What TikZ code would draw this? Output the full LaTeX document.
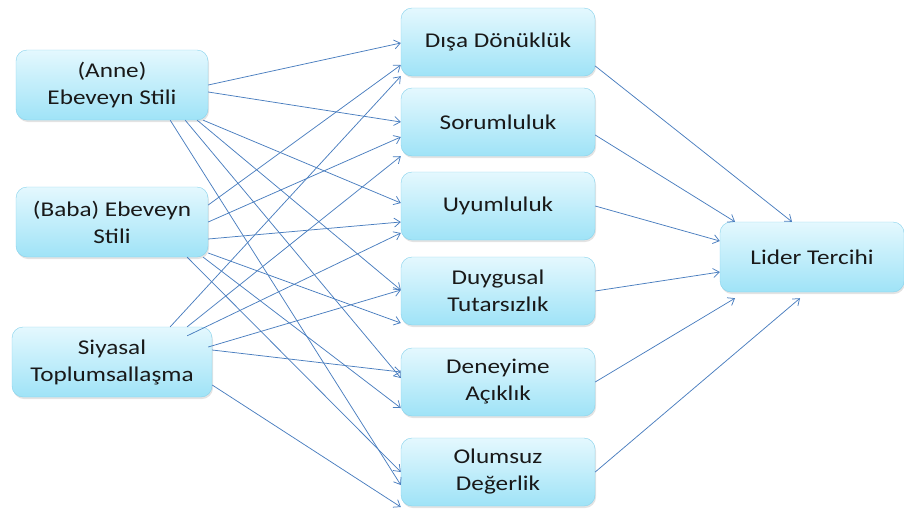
\documentclass[tikz,border=0pt]{standalone}
\usepackage{fontspec}
\setmainfont{Carlito}[FakeStretch=1.2]
\usetikzlibrary{arrows.meta,shadows}

\definecolor{boxtop}{HTML}{E4F8FE}
\definecolor{boxbot}{HTML}{9FE3F7}
\definecolor{boxline}{HTML}{86D2EC}
\definecolor{arrblue}{HTML}{4A7EBF}

\newcommand{\bxn}{\node[rectangle, rounded corners=11pt, draw=boxline, thin,
    top color=boxtop, bottom color=boxbot, align=center, text=black!90,
    minimum height=68pt, inner sep=2pt,
    font=\fontsize{21}{27}\selectfont,
    drop shadow={opacity=0.22, shadow xshift=1pt, shadow yshift=-2pt}]}
\newcommand{\Ln}{\bxn[minimum width=192pt, minimum height=70pt]}
\newcommand{\Mn}{\bxn[minimum width=194pt]}

\tikzset{wires/.style={every edge/.style={draw=arrblue, line width=0.75pt,
    -{Straight Barb[length=6pt, width=9pt]}}}}

\begin{document}
\begin{tikzpicture}[x=1pt, y=-1pt]
            \useasboundingbox (0,0) rectangle (904,512);

            \Ln (anne) at (112, 85) {(Anne)\\Ebeveyn Stili};
            \Ln (baba) at (112, 222) {(Baba) Ebeveyn\\Stili};
            \Ln[minimum width=200pt] (siyasal) at (112, 362) {Siyasal\\Toplumsallaşma};

            \Mn (disa) at (498, 42) {Dışa Dönüklük};
            \Mn (sorum) at (498, 122) {Sorumluluk};
            \Mn (uyum) at (498, 206) {Uyumluluk};
            \Mn (duygu) at (498, 291) {Duygusal\\Tutarsızlık};
            \Mn (deney) at (498, 382) {Deneyime\\Açıklık};
            \Mn (olumsuz) at (498, 472) {Olumsuz\\Değerlik};

            \bxn[minimum width=184pt, minimum height=70pt] (lider) at (812, 257) {Lider Tercihi};

            % anne
            \path[wires]
                (anne.east) edge ([yshift=-1pt]disa.west)
                ([yshift=-7pt]anne.east) edge (sorum.west)
                ([xshift=-5pt]anne.south east) edge ([yshift=3pt]uyum.west)
                ([xshift=-11pt]anne.south east) edge ([yshift=1pt]duygu.west)
                ([xshift=-23pt]anne.south east) edge ([yshift=4pt]deney.west)
                ([xshift=-38pt]anne.south east) edge ([yshift=-13pt]olumsuz.west)
                ;

            % baba
            \path[wires]
                ([yshift=17pt]baba.east) edge ([yshift=-23pt]disa.west)
                (baba.east) edge ([yshift=-15pt]sorum.west)
                ([yshift=-17pt]baba.east) edge ([yshift=-16pt]uyum.west)
                ([yshift=-31pt]baba.east) edge ([yshift=-32pt]duygu.west)
                ([xshift=-5pt]baba.south east) edge ([yshift=-26pt]deney.west)
                ([xshift=-21pt]baba.south east) edge (olumsuz.west)
                ;

            % siyasal
            \path[wires]
                ([xshift=-42pt]siyasal.north east) edge (disa.south west)
                ([xshift=-25pt]siyasal.north east) edge (sorum.south west)
                ([xshift=-25pt, yshift=-9pt]siyasal.north east) edge ([yshift=-27pt]uyum.west)
                ([xshift=-4pt, yshift=15pt]siyasal.east) edge ([yshift=1pt]duygu.west)
                ([yshift=12pt]siyasal.east) edge ([yshift=10pt]deney.west)
                ([yshift=-23pt]siyasal.east) edge ([yshift=-35pt]olumsuz.west)
                ;

            % lider
            \path[wires]
                ([yshift=-24pt]disa.east) edge ([xshift=-20pt]lider.north)
                ([yshift=-13pt]sorum.east) edge ([xshift=-77pt]lider.north)
                (uyum.east) edge ([yshift=16pt]lider.west)
                (duygu.east) edge ([yshift=-15pt]lider.west)
                (deney.east) edge ([xshift=-77pt, yshift=-6pt]lider.south)
                (olumsuz.east) edge ([xshift=-12pt, yshift=-6pt]lider.south)
                ;
        \end{tikzpicture}
\end{document}
